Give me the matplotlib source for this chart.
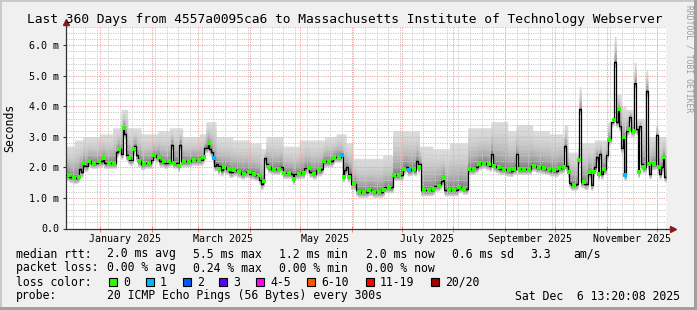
import numpy as np
import matplotlib.pyplot as plt
from matplotlib.patches import Rectangle

plt.rcParams['font.family'] = ['DejaVu Sans Mono']

# --- data ------------------------------------------------------------------
start = np.datetime64('2024-12-11T13:20')
span_days = 360

# median rtt (ms), step changes at given day offsets from start
median_day = [0, 2, 4, 7, 8, 9, 10, 11, 13, 15, 19, 22, 23, 28, 30, 31, 33, 34, 35, 36,
              37, 38, 40, 41, 42, 43, 45, 47, 51, 52, 54, 56, 59, 61, 63, 64, 67, 68, 69, 72,
              75, 80, 82, 83, 85, 86, 87, 88, 89, 90, 91, 92, 93, 94, 96, 98, 100, 103, 105, 107,
              110, 113, 116, 117, 118, 119, 120, 121, 123, 126, 128, 130, 135, 136, 137, 140, 143, 146, 148, 150,
              153, 154, 157, 160, 161, 165, 166, 167, 168, 169, 170, 171, 172, 174, 175, 181, 184, 190, 191, 195,
              196, 200, 202, 203, 205, 207, 209, 210, 211, 212, 213, 215, 220, 221, 224, 225, 226, 227, 229, 235,
              238, 240, 241, 245, 247, 249, 252, 254, 255, 256, 258, 260, 264, 266, 268, 270, 271, 276, 279, 282,
              285, 287, 290, 293, 295, 298, 299, 300, 301, 302, 303, 306, 307, 308, 309, 311, 313, 314, 315, 316,
              317, 318, 319, 320, 321, 322, 324, 325, 326, 327, 328, 329, 330, 331, 332, 333, 334, 335, 336, 337,
              338, 339, 341, 342, 343, 344, 345, 346, 348, 349, 350, 351, 354, 355, 356, 357, 358, 359]
median_ms = [1.75, 1.68, 1.65, 1.7, 1.95, 1.85, 2.15, 2.05, 2.2, 2.15, 2.2, 2.3, 2.15, 2.15, 2.5, 2.6, 2.45, 3.3, 3.1, 2.4,
             2.3, 2.25, 2.6, 2.7, 2.4, 2.2, 2.1, 2.15, 2.25, 2.4, 2.35, 2.2, 2.15, 2.2, 2.75, 2.15, 2.05, 2.75, 2.2, 2.2,
             2.25, 2.25, 2.35, 2.65, 2.8, 2.6, 2.5, 2.3, 2.05, 2.1, 1.95, 2.05, 1.9, 2.0, 1.95, 1.85, 1.9, 1.85, 1.8, 1.85,
             1.8, 1.75, 1.6, 1.45, 1.55, 2.3, 2.1, 2.0, 1.95, 1.95, 2.0, 1.82, 1.8, 1.62, 1.8, 1.82, 1.98, 1.85, 1.8, 1.9,
             1.95, 2.2, 2.2, 2.3, 2.35, 2.4, 1.7, 1.9, 2.0, 1.7, 1.8, 1.45, 1.45, 1.25, 1.2, 1.25, 1.2, 1.25, 1.35, 1.35,
             1.75, 1.75, 1.95, 2.0, 1.9, 1.95, 1.9, 2.2, 2.0, 2.1, 1.25, 1.25, 1.3, 1.4, 1.45, 1.55, 1.65, 1.25, 1.25, 1.35,
             1.3, 1.3, 1.95, 2.0, 2.1, 2.15, 2.1, 2.05, 2.45, 2.05, 2.0, 1.95, 1.9, 1.88, 1.95, 2.45, 1.95, 1.95, 2.05, 2.0,
             1.98, 1.95, 1.9, 1.88, 1.98, 2.0, 2.7, 2.05, 1.85, 1.5, 1.43, 1.45, 2.25, 3.9, 1.52, 1.45, 1.85, 1.8, 1.43, 1.85,
             2.0, 2.35, 1.8, 2.45, 1.8, 1.95, 2.4, 2.9, 2.95, 3.5, 3.55, 5.45, 3.5, 3.9, 3.35, 2.65, 3.0, 1.75, 3.2, 3.25,
             3.65, 3.2, 4.75, 3.25, 1.85, 3.35, 2.1, 2.0, 4.5, 2.1, 1.8, 2.1, 3.05, 2.0, 1.8, 2.0, 2.35, 1.7]

# top edge of the smoke (slowest pings), ms
top_day = [0, 5, 10, 20, 28, 33, 37, 45, 55, 62, 70, 80, 84, 90, 100, 110, 117, 120, 130, 140,
           155, 162, 168, 172, 190, 196, 212, 220, 230, 241, 255, 265, 270, 280, 290, 298, 299, 301, 307, 308,
           309, 317, 325, 329, 330, 333, 336, 341, 342, 348, 349, 354, 355]
top_ms = [2.7, 2.9, 3.0, 3.1, 3.3, 3.9, 3.3, 3.1, 3.2, 3.3, 3.0, 3.1, 3.5, 3.0, 2.9, 2.8, 2.6, 3.0, 2.7, 2.9,
          3.0, 3.1, 2.8, 2.3, 2.4, 3.2, 2.7, 2.6, 2.8, 3.3, 3.5, 3.2, 3.4, 3.2, 3.1, 3.0, 3.4, 2.5, 2.6, 4.65,
          2.8, 2.9, 3.5, 6.3, 4.4, 4.0, 3.9, 5.45, 3.6, 5.2, 3.0, 3.4, 3.0]
low_gap = 0.18          # fastest pings sit about this far under the median
loss1_day = [88, 165, 205, 335]

y_ticks = [0, 1, 2, 3, 4, 5, 6]
y_labels = ['0.0', '1.0 m', '2.0 m', '3.0 m', '4.0 m', '5.0 m', '6.0 m']
label_months = ['2025-01', '2025-03', '2025-05', '2025-07', '2025-09', '2025-11']
month_labels = ['January 2025', 'March 2025', 'May 2025', 'July 2025', 'September 2025', 'November 2025']

title = 'Last 360 Days from 4557a0095ca6 to Massachusetts Institute of Technology Webserver'
rtt_stats = ['2.0 ms avg', '5.5 ms max', '1.2 ms min', '2.0 ms now', '0.6 ms sd', '3.3', 'am/s']
loss_stats = ['0.00 % avg', '0.24 % max', '0.00 % min', '0.00 % now']
loss_names = ['0', '1', '2', '3', '4-5', '6-10', '11-19', '20/20']
loss_colors = ['#26ff00', '#00b8ff', '#0059ff', '#5e00ff', '#ff00ff', '#ff5500', '#ff0000', '#a10000']
probe_text = '20 ICMP Echo Pings (56 Bytes) every 300s'
stamp = 'Sat Dec  6 13:20:08 2025'

W, H = 697, 310


def px(x):
    return x / W


def py(y):
    return 1 - y / H


def day_of(d):
    return (np.datetime64(d, 'm') - start).astype(float) / 1440.0


fig = plt.figure(figsize=(W / 100, H / 100), dpi=100, facecolor='#f0f0f0')
# frame round the canvas
fig.patches.append(Rectangle((0, 0), 1, 1, transform=fig.transFigure, fill=False,
                             ec='#c8c8c8', lw=2))
fig.patches.append(Rectangle((0, 0), 1, 3 / H, transform=fig.transFigure, color='#a0a0a0', lw=0))
fig.patches.append(Rectangle((1 - 3 / W, 0), 3 / W, 1, transform=fig.transFigure, color='#a0a0a0', lw=0))

ax = fig.add_axes([px(66), 81.5 / H, 600 / W, 201.5 / H])
ax.set_facecolor('white')
ax.set_xlim(0, span_days)
ax.set_ylim(0, 6.6)

# smoke
days = np.arange(span_days + 1)
med = np.array(median_ms)[np.searchsorted(median_day, days, side='right') - 1]
top = np.array(top_ms)[np.searchsorted(top_day, days, side='right') - 1]
n = 14
for f in np.linspace(1, 0.06, n):
    hi = med + (top - med) * f ** 1.8
    lo = med - low_gap * f
    shade = 0.86 - 0.5 * (1 - f) ** 1.3
    ax.fill_between(days, lo, hi, step='post', color=str(shade), lw=0, zorder=1)

# grid
for v in np.arange(0.2, 6.61, 0.2):
    if abs(v - round(v)) < 1e-6:
        ax.axhline(v, color='#f0a0a0', lw=0.7, ls=(0, (1.2, 1.2)), zorder=2)
    else:
        ax.axhline(v, color='#c8c8c8', lw=0.7, ls=(0, (1.2, 1.2)), zorder=2)
weeks = np.arange('2024-12-16', '2025-12-07', 7, dtype='datetime64[D]')
for w in weeks:
    ax.axvline(day_of(w), color='#c8c8c8', lw=0.7, ls=(0, (1.2, 1.2)), zorder=2)
month_starts = np.arange('2025-01', '2026-01', dtype='datetime64[M]').astype('datetime64[D]')
month_x = [day_of(m) for m in month_starts]
for m in month_x:
    ax.axvline(m, color='#f0a0a0', lw=0.7, ls=(0, (1.2, 1.2)), zorder=2)

# median + loss colour
ax.step(days, med, where='post', color='black', lw=0.9, zorder=4)
ax.plot(days[1:-1:3] + 0.5, med[1:-1:3], 's', ms=2.2, mew=0, color=loss_colors[0], zorder=5)
ax.plot(np.array(loss1_day) + 0.5, med[loss1_day], 's', ms=2.2, mew=0, color=loss_colors[1], zorder=6)

# axes
for s in ['top', 'right']:
    ax.spines[s].set_visible(False)
for s in ['left', 'bottom']:
    ax.spines[s].set_color('#333333')
    ax.spines[s].set_linewidth(0.9)
ax.plot([0, 0], [1, 1.022], transform=ax.transAxes, color='#333333', lw=0.9, clip_on=False)
ax.plot([1, 1.01], [0, 0], transform=ax.transAxes, color='#333333', lw=0.9, clip_on=False)
ax.plot(0, 1.025, '^', transform=ax.transAxes, color='#8b1a1a', ms=4, clip_on=False)
ax.plot(1.011, 0, '>', transform=ax.transAxes, color='#8b1a1a', ms=4, clip_on=False)

ax.set_yticks(y_ticks)
ax.set_yticklabels(y_labels)
ax.tick_params(axis='y', direction='out', length=2.5, width=0.8, color='#333333',
               pad=2.2, labelsize=7.2)
mid = [day_of(np.datetime64(m + '-16')) for m in label_months]
ax.set_xticks(mid)
ax.set_xticklabels(month_labels)
ax.tick_params(axis='x', length=0, pad=4, labelsize=7.2)
ax.set_xticks(month_x, minor=True)
ax.tick_params(axis='x', which='minor', direction='inout', length=4, width=0.7, color='#e08080')

# texts
fig.text(px(345), py(19), title, ha='center', va='center', size=9.3)
fig.text(px(10), py(128), 'Seconds', rotation=90, ha='center', va='center', size=8.3)
fig.text(px(689), py(5), 'RRDTOOL / TOBI OETIKER', rotation=270, ha='center', va='top',
         size=5.8, color='#9a9a9a')

row_y = [254, 268, 282, 296]
fs = 8.3
fig.text(px(16), py(row_y[0]), 'median rtt:', va='center', size=fs)
for x, s in zip([107, 193, 279, 366, 452, 530, 573], rtt_stats):
    fig.text(px(x), py(row_y[0]), s, va='center', size=fs)
fig.text(px(16), py(row_y[1]), 'packet loss:', va='center', size=fs)
for x, s in zip([107, 193, 279, 366], loss_stats):
    fig.text(px(x), py(row_y[1]), s, va='center', size=fs)
fig.text(px(16), py(row_y[2]), 'loss color:', va='center', size=fs)
for x, s, c in zip([109, 146, 183, 219, 256, 307, 366, 431], loss_names, loss_colors):
    fig.patches.append(Rectangle((px(x), py(row_y[2] + 4)), 8 / W, 8 / H, transform=fig.transFigure,
                                 fc=c, ec='black', lw=0.8))
    fig.text(px(x + 14), py(row_y[2]), s, va='center', size=fs)
fig.text(px(16), py(row_y[3]), 'probe:', va='center', size=fs)
fig.text(px(107), py(row_y[3]), probe_text, va='center', size=fs)
fig.text(px(680), py(row_y[3]), stamp, ha='right', va='center', size=fs)

fig.savefig('out.png', dpi=100, facecolor=fig.get_facecolor())
